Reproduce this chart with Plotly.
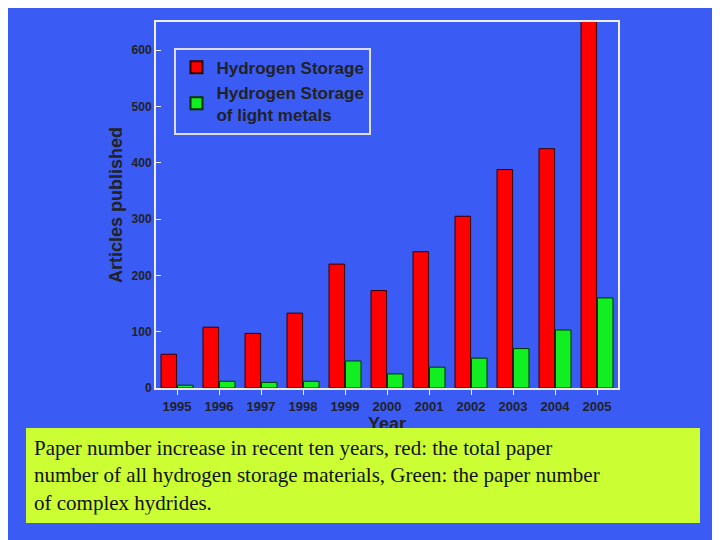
import plotly.graph_objects as go

years = ["1995", "1996", "1997", "1998", "1999", "2000", "2001", "2002", "2003", "2004", "2005"]
total_storage = [60, 108, 97, 133, 220, 173, 242, 305, 388, 425, 660]
light_metals = [5, 12, 10, 12, 48, 25, 37, 53, 70, 103, 160]
caption = ("Paper number increase in recent ten years, red: the total paper<br>"
           "number of all hydrogen storage materials, Green: the paper number<br>"
           "of complex hydrides.")

blue = "#3a5cf5"

fig = go.Figure()
fig.add_trace(go.Bar(x=years, y=total_storage, name="<b>Hydrogen Storage</b>",
                     marker=dict(color="#ff0000", line=dict(color="#330000", width=1))))
fig.add_trace(go.Bar(x=years, y=light_metals, name="<b>Hydrogen Storage<br>of light metals</b>",
                     marker=dict(color="#11ee22", line=dict(color="#003300", width=1))))

fig.update_layout(
    width=720, height=540,
    paper_bgcolor=blue, plot_bgcolor=blue,
    margin=dict(l=148, r=110, t=14, b=160),
    barmode="group", bargap=0.22, bargroupgap=0.05,
    font=dict(family="Liberation Sans, Arial", color="#222222"),
    legend=dict(x=0.04, y=0.93, xanchor="left", yanchor="top",
                bgcolor=blue, bordercolor="#dddddd", borderwidth=2,
                itemsizing="constant",
                font=dict(size=17, color="#222222", family="Liberation Sans, Arial")),
    xaxis=dict(title=dict(text="<b>Year</b>", font=dict(size=18), standoff=0),
               tickfont=dict(size=13), tickprefix="<b>", ticksuffix="</b>",
               showline=True, linecolor="#eeeeee", linewidth=2, mirror=True,
               ticks="outside", tickcolor="#eeeeee"),
    yaxis=dict(title=dict(text="<b>Articles published</b>", font=dict(size=18), standoff=4),
               range=[0, 650], dtick=100, tickfont=dict(size=12),
               tickprefix="<b>", ticksuffix="</b>",
               showgrid=False, zeroline=False,
               showline=True, linecolor="#eeeeee", linewidth=2, mirror=True,
               ticks="inside", tickcolor="#eeeeee"),
)

fig.add_annotation(xref="paper", yref="paper", x=-0.281, y=-0.109,
                   xanchor="left", yanchor="top", align="left",
                   text=caption, showarrow=False,
                   font=dict(family="Liberation Serif, Times New Roman", size=21, color="#111111"),
                   bgcolor="#ccff33", bordercolor="#ccff33", borderpad=7,
                   width=658)

fig.write_html("out.html")
